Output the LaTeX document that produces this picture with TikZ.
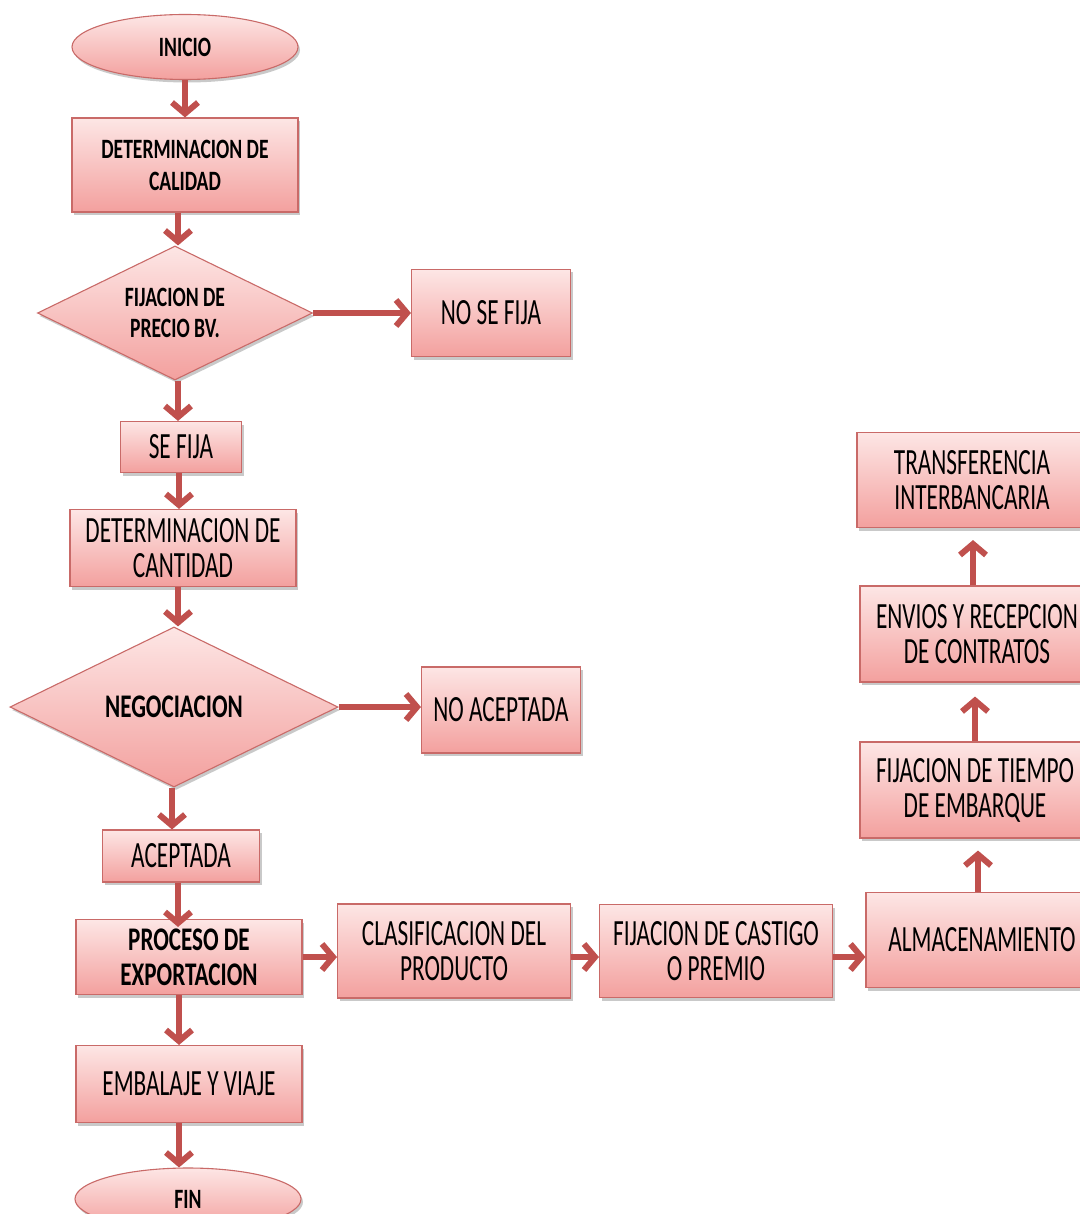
\documentclass[tikz,border=0pt]{standalone}
\usepackage{fontspec}
\newfontfamily\regf{Carlito}[FakeStretch=0.63]
\newfontfamily\boldf{Carlito}[FakeStretch=0.7]
\usetikzlibrary{shapes.geometric,shadows,arrows.meta}
\definecolor{bord}{HTML}{C0504D}
\definecolor{arrc}{HTML}{C0504D}
\definecolor{ltop}{RGB}{253,230,229}
\definecolor{lbot}{RGB}{243,160,158}
\tikzset{
  base/.style={draw=bord!85, line width=1.1pt, top color=ltop, bottom color=lbot,
    drop shadow={shadow xshift=2pt,shadow yshift=-3pt,opacity=.35,fill=black!60},
    align=center, inner sep=0pt, text=black},
  box/.style={base, rectangle, font=\regf\fontsize{37}{35}\selectfont},
  bbox/.style={base, rectangle, font=\boldf\bfseries\fontsize{28}{32}\selectfont},
  dia/.style={base, diamond, aspect=2, font=\boldf\bfseries\fontsize{28}{31}\selectfont},
  ell/.style={base, ellipse, font=\boldf\bfseries\fontsize{28}{30}\selectfont},
  arr/.style={draw=arrc, line width=6pt, -{Straight Barb[length=11pt,width=26pt]}},
}
\begin{document}
\begin{tikzpicture}[x=1pt,y=-1pt]
\fill[white] (0,0) rectangle (1079,1214);
\useasboundingbox (0,0) rectangle (1079,1214);
\node[ell, minimum width=226, minimum height=65] (inicio) at (185,47) {INICIO};
\node[bbox, minimum width=226, minimum height=94] (cal) at (185,165) {DETERMINACION DE\\CALIDAD};
\node[dia, minimum width=275, minimum height=134] (prec) at (175,313) {FIJACION DE\\PRECIO BV.};
\node[box, minimum width=159, minimum height=87] (nofija) at (491,313) {NO SE FIJA};
\node[box, minimum width=121, minimum height=51] (sefija) at (181,447) {SE FIJA};
\node[box, minimum width=226, minimum height=77] (cant) at (183,548) {DETERMINACION DE\\CANTIDAD};
\node[dia, minimum width=328, minimum height=160, font=\boldf\bfseries\fontsize{33}{36}\selectfont] (neg) at (174,707) {NEGOCIACION};
\node[box, minimum width=159, minimum height=86] (noacep) at (501,710) {NO ACEPTADA};
\node[box, minimum width=157, minimum height=52] (acep) at (181,856) {ACEPTADA};
\node[bbox, minimum width=226, minimum height=75, font=\boldf\bfseries\fontsize{33}{35}\selectfont] (proc) at (189,957) {PROCESO DE\\EXPORTACION};
\node[box, minimum width=233, minimum height=94] (clas) at (454,951) {CLASIFICACION DEL\\PRODUCTO};
\node[box, minimum width=233, minimum height=93] (cast) at (716,951) {FIJACION DE CASTIGO\\O PREMIO};
\node[box, minimum width=232, minimum height=95] (alm) at (982,940) {ALMACENAMIENTO};
\node[box, minimum width=230, minimum height=96] (tiempo) at (975,790) {FIJACION DE TIEMPO\\DE EMBARQUE};
\node[box, minimum width=234, minimum height=96] (envios) at (977,634) {ENVIOS Y RECEPCION\\DE CONTRATOS};
\node[box, minimum width=230, minimum height=95] (transf) at (972,480) {TRANSFERENCIA\\INTERBANCARIA};
\node[box, minimum width=226, minimum height=77] (emb) at (189,1084) {EMBALAJE Y VIAJE};
\node[ell, minimum width=226, minimum height=62] (fin) at (188,1199) {FIN};

\draw[arr] (inicio.south) -- (cal.north);
\draw[arr] ([xshift=3pt]cal.south -| prec.north) -- ([xshift=3pt]prec.north);
\draw[arr] (prec.east) -- (prec.east -| nofija.west);
\draw[arr] ([xshift=3pt]prec.south) -- ([xshift=3pt]prec.south |- sefija.north);
\draw[arr] ([xshift=-2pt]sefija.south) -- ([xshift=-2pt]sefija.south |- cant.north);
\draw[arr] ([xshift=4pt]cant.south -| neg.north) -- ([xshift=4pt]neg.north);
\draw[arr] (neg.east) -- (neg.east -| noacep.west);
\draw[arr] ([xshift=-2pt]neg.south) -- ([xshift=-2pt]neg.south |- acep.north);
\draw[arr, shorten >=-8pt] ([xshift=-3pt]acep.south) -- ([xshift=-3pt]acep.south |- proc.north);
\draw[arr] (proc.east) -- (proc.east -| clas.west);
\draw[arr] ([xshift=-10pt]proc.south) -- ([xshift=-10pt]proc.south |- emb.north);
\draw[arr] ([yshift=-6pt]clas.east) -- ([yshift=-6pt]clas.east -| cast.west);
\draw[arr] ([yshift=-6pt]cast.east) -- ([yshift=-6pt]cast.east -| alm.west);
\draw[arr, shorten >=12pt] ([xshift=-4pt]alm.north) -- ([xshift=-4pt]alm.north |- tiempo.south);
\draw[arr, shorten >=14pt] (tiempo.north) -- (tiempo.north |- envios.south);
\draw[arr, shorten >=12pt] ([xshift=-4pt]envios.north) -- ([xshift=-4pt]envios.north |- transf.south);
\draw[arr] ([xshift=-10pt]emb.south) -- ([xshift=-10pt]emb.south |- fin.north);
\end{tikzpicture}
\end{document}
